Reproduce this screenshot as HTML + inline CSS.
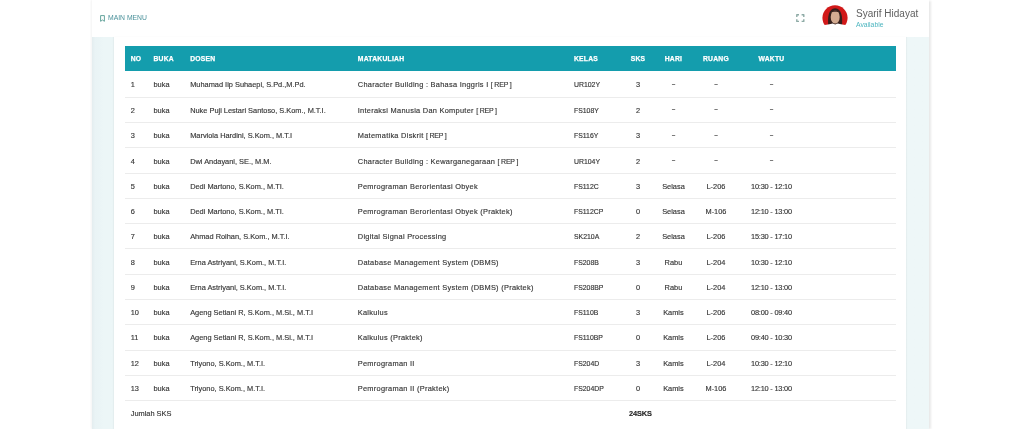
<!DOCTYPE html>
<html><head><meta charset="utf-8">
<style>
*{box-sizing:border-box;margin:0;padding:0}
html,body{width:1024px;height:429px;overflow:hidden;background:#fff;font-family:"Liberation Sans",sans-serif;color:#444}
#wrap{will-change:transform;position:absolute;left:92px;top:0;width:837px;height:429px;background:linear-gradient(to right,#e4edef 0,#e9f3f5 3px,#ecf6f7 12px,#eef7f8 100%);box-shadow:-1px 0 2px rgba(0,0,0,.05),2px 0 2px -0.5px rgba(0,0,0,.09)}
#hdr{position:absolute;left:0;top:0;width:837px;height:36.8px;background:#fff}
#menu{position:absolute;left:16px;top:14.1px;font-size:6.8px;color:#4a919a;letter-spacing:0;white-space:nowrap}
#menu svg{position:absolute;left:-8.3px;top:1.1px}
#fs{position:absolute;left:703.7px;top:13.9px}
#av{position:absolute;left:730.2px;top:5.2px;overflow:visible}
#name{position:absolute;left:764px;top:7.5px;font-size:10px;color:#606060;white-space:nowrap}
#avail{position:absolute;left:764px;top:20.5px;font-size:6.8px;color:#4cb5bf;white-space:nowrap}
#card{position:absolute;left:22px;top:36.8px;width:792px;height:400px;background:#fff;box-shadow:-1px 0 1px rgba(0,0,0,.03),1px 0 1px rgba(0,0,0,.03)}
table{position:absolute;left:10.5px;top:9.0px;width:771.5px;border-collapse:collapse;table-layout:fixed}
th{background:#149dad;color:#fff;font-weight:700;font-size:6.75px;-webkit-text-stroke:0.25px #fff;letter-spacing:0.25px;height:25.4px;text-align:left;padding:0 0 0 6.2px;vertical-align:middle}
td{font-size:7.4px;height:25.27px;border-bottom:1px solid #ececec;padding:1px 0 0 6.2px;vertical-align:middle;white-space:nowrap;color:#363636;-webkit-text-stroke:0.15px #363636}
th.c{text-align:center;padding:0}
td.c{text-align:center;padding:1px 0 0 0}
tr.tot td{border-bottom:none}
tr.r1 td{height:26.2px;padding-top:1.8px}
td:nth-child(4){letter-spacing:0.28px}
td:nth-child(5){font-size:6.9px}
.d{font-size:5.6px;position:relative;top:-1.6px;color:#666}
td:nth-child(9){letter-spacing:-0.2px}
.rep{letter-spacing:-0.2px;font-size:7px}
b.sum{font-weight:700;color:#222;position:relative;left:2.5px;letter-spacing:-0.15px}
</style></head><body>
<div id="wrap">
  <div id="hdr">
    <div id="menu"><svg width="5" height="7" viewBox="0 0 5 7"><path d="M0.6 0.6H4.4V6.3L2.5 5L0.6 6.3Z" fill="none" stroke="#559b92" stroke-width="0.9"/></svg>MAIN MENU</div>
    <svg id="fs" width="9" height="8.5" viewBox="0 0 9 8.5"><path d="M0.8 3.0V0.8H3.0M5.6 0.8H7.8V3.0M7.8 5.2V7.4H5.6M3.0 7.4H0.8V5.2" fill="none" stroke="#8eaba6" stroke-width="1.4" stroke-linejoin="round"/></svg>
    <svg id="av" width="26" height="27" viewBox="0 0 26 27"><defs><clipPath id="cc"><circle cx="13" cy="12.8" r="12.6"/></clipPath></defs>
<g clip-path="url(#cc)"><rect width="26" height="27" fill="#d11919"/>
<path d="M6.2 20.5 C5.6 12 6.3 3.8 13.1 3.2 C19.9 3.8 20.6 12 20 20.5 Z" fill="#35201d"/>
<ellipse cx="13.2" cy="12" rx="4.5" ry="6.6" fill="#d3ab91"/>
<path d="M8.7 7.5 C9.7 4.6 16.7 4.6 17.7 7.5 C15.7 6.4 10.7 6.4 8.7 7.5Z" fill="#3a2320"/></g>
<path d="M-1 28 L-1 20.2 C4 20 8.5 19.4 10.6 18.6 L13.2 19.6 L15.8 18.6 C17.8 19.4 22 20 27 20.2 L27 28Z" fill="#fff"/></svg>
    <div id="name">Syarif Hidayat</div>
    <div id="avail">Available</div>
  </div>
  <div id="card">
    <table>
      <colgroup><col style="width:22.8px"><col style="width:36.7px"><col style="width:167.6px"><col style="width:216.2px"><col style="width:54.2px"><col style="width:32px"><col style="width:39px"><col style="width:46px"><col style="width:65px"><col></colgroup>
      <tr><th>NO</th><th>BUKA</th><th>DOSEN</th><th>MATAKULIAH</th><th>KELAS</th><th class="c">SKS</th><th class="c">HARI</th><th class="c">RUANG</th><th class="c">WAKTU</th><th></th></tr>
      <tr class="r1"><td>1</td><td>buka</td><td>Muhamad Iip Suhaepi, S.Pd.,M.Pd.</td><td>Character Building : Bahasa Inggris I <span class="rep">[ REP ]</span></td><td>UR102Y</td><td class="c">3</td><td class="c"><span class="d">&ndash;</span></td><td class="c"><span class="d">&ndash;</span></td><td class="c"><span class="d">&ndash;</span></td><td></td></tr>
      <tr><td>2</td><td>buka</td><td>Nuke Puji Lestari Santoso, S.Kom., M.T.I.</td><td>Interaksi Manusia Dan Komputer <span class="rep">[ REP ]</span></td><td>FS108Y</td><td class="c">2</td><td class="c"><span class="d">&ndash;</span></td><td class="c"><span class="d">&ndash;</span></td><td class="c"><span class="d">&ndash;</span></td><td></td></tr>
      <tr><td>3</td><td>buka</td><td>Marviola Hardini, S.Kom., M.T.I</td><td>Matematika Diskrit <span class="rep">[ REP ]</span></td><td>FS116Y</td><td class="c">3</td><td class="c"><span class="d">&ndash;</span></td><td class="c"><span class="d">&ndash;</span></td><td class="c"><span class="d">&ndash;</span></td><td></td></tr>
      <tr><td>4</td><td>buka</td><td>Dwi Andayani, SE., M.M.</td><td>Character Building : Kewarganegaraan <span class="rep">[ REP ]</span></td><td>UR104Y</td><td class="c">2</td><td class="c"><span class="d">&ndash;</span></td><td class="c"><span class="d">&ndash;</span></td><td class="c"><span class="d">&ndash;</span></td><td></td></tr>
      <tr><td>5</td><td>buka</td><td>Dedi Martono, S.Kom., M.TI.</td><td>Pemrograman Berorientasi Obyek</td><td>FS112C</td><td class="c">3</td><td class="c">Selasa</td><td class="c">L-206</td><td class="c">10:30 - 12:10</td><td></td></tr>
      <tr><td>6</td><td>buka</td><td>Dedi Martono, S.Kom., M.TI.</td><td>Pemrograman Berorientasi Obyek (Praktek)</td><td>FS112CP</td><td class="c">0</td><td class="c">Selasa</td><td class="c">M-106</td><td class="c">12:10 - 13:00</td><td></td></tr>
      <tr><td>7</td><td>buka</td><td>Ahmad Roihan, S.Kom., M.T.I.</td><td>Digital Signal Processing</td><td>SK210A</td><td class="c">2</td><td class="c">Selasa</td><td class="c">L-206</td><td class="c">15:30 - 17:10</td><td></td></tr>
      <tr><td>8</td><td>buka</td><td>Erna Astriyani, S.Kom., M.T.I.</td><td>Database Management System (DBMS)</td><td>FS208B</td><td class="c">3</td><td class="c">Rabu</td><td class="c">L-204</td><td class="c">10:30 - 12:10</td><td></td></tr>
      <tr><td>9</td><td>buka</td><td>Erna Astriyani, S.Kom., M.T.I.</td><td>Database Management System (DBMS) (Praktek)</td><td>FS208BP</td><td class="c">0</td><td class="c">Rabu</td><td class="c">L-204</td><td class="c">12:10 - 13:00</td><td></td></tr>
      <tr><td>10</td><td>buka</td><td>Ageng Setiani R, S.Kom., M.Si., M.T.I</td><td>Kalkulus</td><td>FS110B</td><td class="c">3</td><td class="c">Kamis</td><td class="c">L-206</td><td class="c">08:00 - 09:40</td><td></td></tr>
      <tr><td>11</td><td>buka</td><td>Ageng Setiani R, S.Kom., M.Si., M.T.I</td><td>Kalkulus (Praktek)</td><td>FS110BP</td><td class="c">0</td><td class="c">Kamis</td><td class="c">L-206</td><td class="c">09:40 - 10:30</td><td></td></tr>
      <tr><td>12</td><td>buka</td><td>Triyono, S.Kom., M.T.I.</td><td>Pemrograman II</td><td>FS204D</td><td class="c">3</td><td class="c">Kamis</td><td class="c">L-204</td><td class="c">10:30 - 12:10</td><td></td></tr>
      <tr><td>13</td><td>buka</td><td>Triyono, S.Kom., M.T.I.</td><td>Pemrograman II (Praktek)</td><td>FS204DP</td><td class="c">0</td><td class="c">Kamis</td><td class="c">M-106</td><td class="c">12:10 - 13:00</td><td></td></tr>
      <tr class="tot"><td colspan="3">Jumlah SKS</td><td></td><td></td><td class="c"><b class="sum">24SKS</b></td><td></td><td></td><td></td><td></td></tr>
    </table>
  </div>
</div>
</body></html>
